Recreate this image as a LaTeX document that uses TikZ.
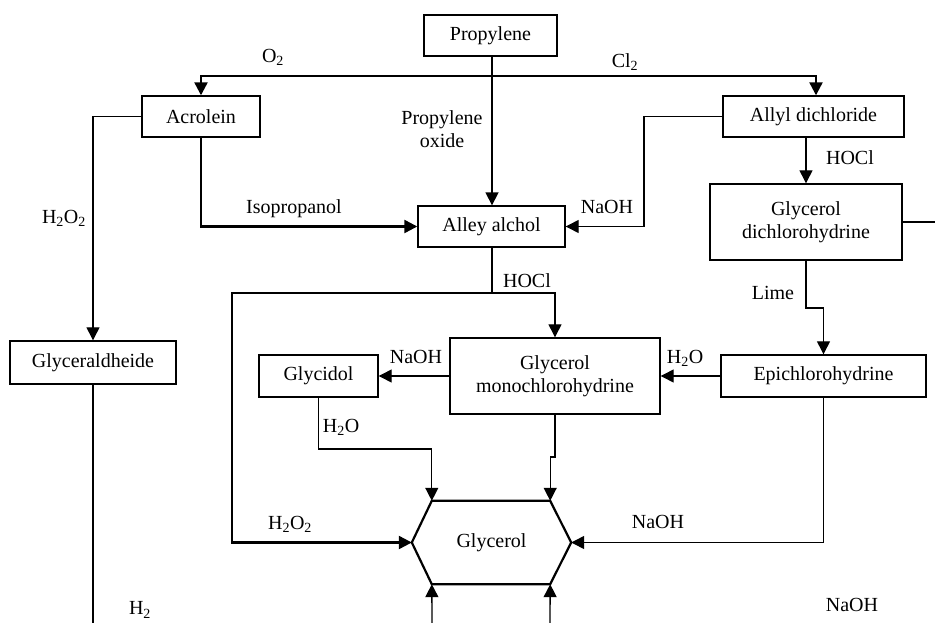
\documentclass[tikz,border=0pt]{standalone}
\usepackage{fontspec}
\setmainfont{Liberation Serif}
\usetikzlibrary{arrows.meta}
\begin{document}
\begin{tikzpicture}[x=1pt,y=-1pt,
  box/.style={draw, line width=1.4pt, inner sep=0pt, font=\fontsize{20}{23}\selectfont, align=center},
  lbl/.style={font=\fontsize{20}{23}\selectfont, inner sep=0pt, align=center},
  tip/.style={-{Triangle[length=13pt,width=13pt]}},
  thin1/.style={line width=1.3pt},
  thick1/.style={line width=2.3pt},
]
\useasboundingbox (0,0) rectangle (935,623);

% boxes
\node[box, minimum width=133pt, minimum height=41pt] (prop) at (490.5,35.5) {Propylene};
\node[box, minimum width=118pt, minimum height=41pt] (acro) at (201,116.5) {Acrolein};
\node[box, minimum width=181pt, minimum height=41pt] (ally) at (813.5,116.5) {Allyl dichloride};
\node[box, minimum width=147pt, minimum height=41pt] (alley) at (491.5,226.5) {Alley alchol};
\node[box, minimum width=192pt, minimum height=76pt] (gdc) at (806,222) {Glycerol\\dichlorohydrine};
\node[box, minimum width=166pt, minimum height=43pt] (glyald) at (93,362.5) {Glyceraldheide};
\node[box, minimum width=119pt, minimum height=42pt] (gly) at (318.5,376) {Glycidol};
\node[box, minimum width=210pt, minimum height=76pt] (gmc) at (555,376) {Glycerol\\monochlorohydrine};
\node[box, minimum width=205pt, minimum height=42pt] (epi) at (823.5,376) {Epichlorohydrine};

% Glycerol hexagon
\node[lbl, minimum width=159pt, minimum height=83pt] (glyc) at (491.5,542.5) {Glycerol};
\coordinate (gtl) at ([xshift=20pt]glyc.north west);
\coordinate (gtr) at ([xshift=-21pt]glyc.north east);
\coordinate (gbl) at ([xshift=20pt]glyc.south west);
\coordinate (gbr) at ([xshift=-21pt]glyc.south east);
\draw[line width=2.2pt, line join=miter] (glyc.west) -- (gtl) -- (gtr) -- (glyc.east) -- (gbr) -- (gbl) -- cycle;

% connectors
\coordinate (hj) at (492,76);
\draw[thick1, tip] (hj) -| (acro.north);
\draw[thick1, tip] (hj) -| ([xshift=2.5pt]ally.north);
\draw[line width=1.7pt, tip] ([xshift=1.5pt]prop.south) -- ([xshift=0.5pt]alley.north);

\draw[thin1, tip] (acro.west) -| (glyald.north);
\draw[thick1, tip] (acro.south) |- (alley.west);
\draw[thin1, tip] (ally.west) -- (644,116.5) |- (alley.east);
\draw[thin1, tip] (gdc.north |- ally.south) -- (gdc.north);
\draw[thin1] (gdc.east) -- (935,222);

\coordinate (aj) at (492,293);
\draw[thin1] ([xshift=0.5pt]alley.south) -- (aj);
\draw[thin1, tip] (aj) -| (gmc.north);
\draw[thick1, tip] (aj) -- (232,293) |- (glyc.west);

\draw[thin1, tip] (gdc.south) -- (806,308) -| (epi.north);
\draw[thin1, tip] (epi.west) -- (gmc.east);
\draw[thin1, tip] (gmc.west) -- (gly.east |- gmc.west);
\draw[thin1, tip] (gly.south) -- (318.5,449) -| (gtl);
\draw[thin1, tip] (gmc.south) -- (555,457) -| (gtr);
\draw[thin1, tip] (epi.south) |- (glyc.east);

\coordinate (b1) at (432,623);
\coordinate (b2) at (550,623);
\draw[thin1, tip] (b1) -- (gbl);
\draw[thin1, tip] (b2) -- (gbr);
\coordinate (b0) at (93,623);
\draw[thin1] (glyald.south) -- (b0);

% labels
\node[lbl] (lo2) at (273,57) {O\textsubscript{2}};
\node[lbl] (lcl2) at (625,62) {Cl\textsubscript{2}};
\node[lbl] (lpo) at (442,129) {Propylene\\oxide};
\node[lbl] (liso) at (294,209) {Isopropanol};
\node[lbl] (lh2o2a) at (64,218) {H\textsubscript{2}O\textsubscript{2}};
\node[lbl] (lnaoh1) at (607,207) {NaOH};
\node[lbl] (lhocl1) at (850,158) {HOCl};
\node[lbl] (lhocl2) at (527,281) {HOCl};
\node[lbl] (llime) at (773,293) {Lime};
\node[lbl] (lh2o1) at (685,358) {H\textsubscript{2}O};
\node[lbl] (lnaoh2) at (416,357) {NaOH};
\node[lbl] (lh2o2) at (341,427) {H\textsubscript{2}O};
\node[lbl] (lh2o2b) at (290,524) {H\textsubscript{2}O\textsubscript{2}};
\node[lbl] (lnaoh3) at (658,522) {NaOH};
\node[lbl] (lh2) at (140,610) {H\textsubscript{2}};
\node[lbl] (lnaoh4) at (852,605) {NaOH};
\end{tikzpicture}
\end{document}
